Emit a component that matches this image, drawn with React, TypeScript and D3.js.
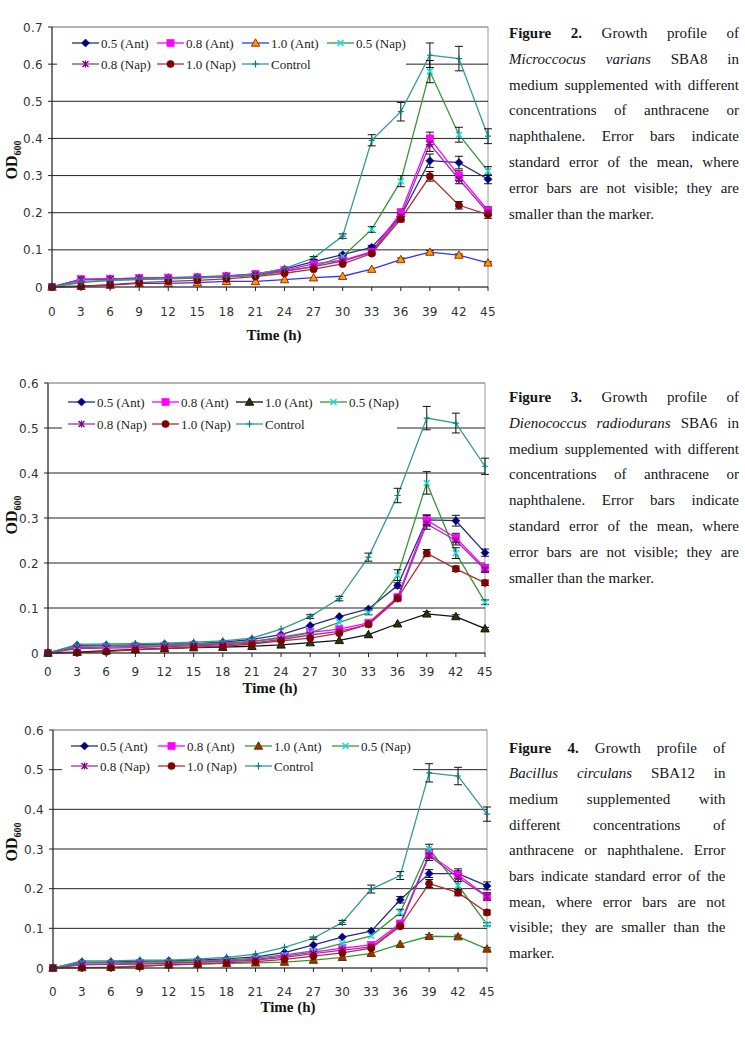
import React from 'react';
import * as d3 from 'd3';

// Sampling times (h)
const times = [0, 3, 6, 9, 12, 15, 18, 21, 24, 27, 30, 33, 36, 39, 42, 45];

const seriesLabels = ['0.5 (Ant)', '0.8 (Ant)', '1.0 (Ant)', '0.5 (Nap)', '0.8 (Nap)', '1.0 (Nap)', 'Control'];

// Figure 2 – Micrococcus varians SBA8 (OD600)
const f2Ant05 = [0, 0.020, 0.022, 0.024, 0.025, 0.027, 0.030, 0.035, 0.048, 0.068, 0.087, 0.107, 0.190, 0.340, 0.335, 0.290];
const f2Ant08 = [0, 0.021, 0.022, 0.024, 0.025, 0.026, 0.029, 0.035, 0.045, 0.062, 0.072, 0.095, 0.200, 0.400, 0.300, 0.206];
const f2Ant10 = [0, 0.002, 0.005, 0.010, 0.010, 0.012, 0.015, 0.015, 0.020, 0.025, 0.029, 0.048, 0.074, 0.094, 0.086, 0.065];
const f2Nap05 = [0, 0.012, 0.018, 0.020, 0.022, 0.024, 0.027, 0.031, 0.042, 0.055, 0.082, 0.155, 0.285, 0.580, 0.410, 0.312];
const f2Nap08 = [0, 0.020, 0.021, 0.023, 0.023, 0.025, 0.028, 0.033, 0.043, 0.055, 0.070, 0.093, 0.190, 0.385, 0.290, 0.200];
const f2Nap10 = [0, 0.002, 0.006, 0.012, 0.015, 0.018, 0.022, 0.028, 0.037, 0.048, 0.062, 0.090, 0.183, 0.298, 0.220, 0.195];
const f2Ctrl = [0, 0.015, 0.018, 0.021, 0.023, 0.025, 0.028, 0.034, 0.050, 0.078, 0.137, 0.395, 0.472, 0.624, 0.615, 0.406];

// Figure 2 – standard errors
const f2Ant05Err = [0, 0, 0, 0, 0, 0, 0, 0, 0, 0, 0.004, 0.005, 0.010, 0.018, 0.017, 0.012];
const f2Ant08Err = [0, 0, 0, 0, 0, 0, 0, 0, 0, 0, 0, 0, 0.010, 0.017, 0.013, 0.010];
const f2Ant10Err = [0, 0, 0, 0, 0, 0, 0, 0, 0, 0, 0, 0, 0.004, 0.004, 0.003, 0.003];
const f2Nap05Err = [0, 0, 0, 0, 0, 0, 0, 0, 0, 0.003, 0.004, 0.008, 0.015, 0.030, 0.020, 0.012];
const f2Nap08Err = [0, 0, 0, 0, 0, 0, 0, 0, 0, 0, 0, 0, 0.008, 0.020, 0.012, 0.008];
const f2Nap10Err = [0, 0, 0, 0, 0, 0, 0, 0, 0, 0, 0, 0, 0.008, 0.013, 0.010, 0.010];
const f2CtrlErr = [0, 0, 0, 0, 0, 0, 0, 0, 0, 0.004, 0.006, 0.015, 0.025, 0.033, 0.033, 0.020];

// Figure 3 – Dienococcus radiodurans SBA6 (OD600)
const f3Ant05 = [0, 0.017, 0.017, 0.018, 0.020, 0.021, 0.024, 0.030, 0.041, 0.061, 0.081, 0.098, 0.150, 0.296, 0.294, 0.223];
const f3Ant08 = [0, 0.012, 0.013, 0.015, 0.016, 0.018, 0.020, 0.025, 0.035, 0.046, 0.053, 0.067, 0.124, 0.295, 0.256, 0.189];
const f3Ant10 = [0, 0.002, 0.005, 0.008, 0.010, 0.012, 0.013, 0.015, 0.018, 0.023, 0.028, 0.041, 0.065, 0.087, 0.081, 0.054];
const f3Nap05 = [0, 0.015, 0.016, 0.017, 0.018, 0.020, 0.022, 0.026, 0.033, 0.045, 0.068, 0.090, 0.173, 0.378, 0.222, 0.113];
const f3Nap08 = [0, 0.010, 0.011, 0.012, 0.014, 0.016, 0.018, 0.022, 0.030, 0.040, 0.048, 0.063, 0.120, 0.287, 0.250, 0.185];
const f3Nap10 = [0, 0.001, 0.003, 0.007, 0.010, 0.013, 0.015, 0.020, 0.027, 0.033, 0.044, 0.064, 0.122, 0.222, 0.187, 0.156];
const f3Ctrl = [0, 0.019, 0.020, 0.021, 0.022, 0.024, 0.027, 0.033, 0.053, 0.081, 0.121, 0.213, 0.350, 0.522, 0.511, 0.415];

const f3Ant05Err = [0, 0, 0, 0, 0, 0, 0, 0, 0, 0, 0, 0, 0.006, 0.010, 0.012, 0.008];
const f3Ant08Err = [0, 0, 0, 0, 0, 0, 0, 0, 0, 0, 0, 0, 0.005, 0.012, 0.010, 0.008];
const f3Ant10Err = [0, 0, 0, 0, 0, 0, 0, 0, 0, 0, 0, 0, 0, 0.005, 0.004, 0.003];
const f3Nap05Err = [0, 0, 0, 0, 0, 0, 0, 0, 0, 0, 0, 0.005, 0.012, 0.025, 0.012, 0.005];
const f3Nap08Err = [0, 0, 0, 0, 0, 0, 0, 0, 0, 0, 0, 0, 0, 0.012, 0.010, 0.006];
const f3Nap10Err = [0, 0, 0, 0, 0, 0, 0, 0, 0, 0, 0, 0, 0.005, 0.008, 0.006, 0.006];
const f3CtrlErr = [0, 0, 0, 0, 0, 0, 0, 0, 0, 0.004, 0.005, 0.009, 0.016, 0.026, 0.022, 0.018];

// Figure 4 – Bacillus circulans SBA12 (OD600)
const f4Ant05 = [0, 0.015, 0.015, 0.017, 0.018, 0.020, 0.023, 0.028, 0.039, 0.058, 0.078, 0.093, 0.172, 0.238, 0.238, 0.207];
const f4Ant08 = [0, 0.010, 0.010, 0.012, 0.013, 0.015, 0.018, 0.022, 0.030, 0.040, 0.050, 0.058, 0.112, 0.287, 0.235, 0.180];
const f4Ant10 = [0, 0.001, 0.002, 0.005, 0.008, 0.010, 0.012, 0.013, 0.015, 0.020, 0.027, 0.037, 0.060, 0.080, 0.079, 0.048];
const f4Nap05 = [0, 0.013, 0.013, 0.015, 0.016, 0.018, 0.020, 0.025, 0.033, 0.043, 0.062, 0.081, 0.140, 0.300, 0.208, 0.110];
const f4Nap08 = [0, 0.008, 0.009, 0.010, 0.012, 0.014, 0.016, 0.020, 0.027, 0.036, 0.045, 0.053, 0.108, 0.283, 0.228, 0.180];
const f4Nap10 = [0, 0.001, 0.001, 0.004, 0.008, 0.010, 0.013, 0.016, 0.022, 0.030, 0.038, 0.050, 0.105, 0.213, 0.190, 0.140];
const f4Ctrl = [0, 0.018, 0.018, 0.020, 0.020, 0.023, 0.027, 0.035, 0.052, 0.075, 0.115, 0.199, 0.233, 0.492, 0.484, 0.388];

const f4Ant05Err = [0, 0, 0, 0, 0, 0, 0, 0, 0, 0, 0, 0, 0.008, 0.010, 0.012, 0.010];
const f4Ant08Err = [0, 0, 0, 0, 0, 0, 0, 0, 0, 0, 0, 0, 0.005, 0.010, 0.010, 0.010];
const f4Ant10Err = [0, 0, 0, 0, 0, 0, 0, 0, 0, 0, 0, 0, 0, 0.004, 0.004, 0.003];
const f4Nap05Err = [0, 0, 0, 0, 0, 0, 0, 0, 0, 0, 0, 0, 0.008, 0.012, 0.010, 0.004];
const f4Nap08Err = [0, 0, 0, 0, 0, 0, 0, 0, 0, 0, 0, 0, 0, 0.012, 0.010, 0.008];
const f4Nap10Err = [0, 0, 0, 0, 0, 0, 0, 0, 0, 0, 0, 0, 0.004, 0.010, 0.008, 0.006];
const f4CtrlErr = [0, 0, 0, 0, 0, 0, 0, 0, 0, 0.003, 0.005, 0.010, 0.010, 0.023, 0.022, 0.018];

const yTicks07 = [0, 0.1, 0.2, 0.3, 0.4, 0.5, 0.6, 0.7];
const yTicks06 = [0, 0.1, 0.2, 0.3, 0.4, 0.5, 0.6];

type MarkerKind = 'diamond' | 'square' | 'triangle' | 'xmark' | 'star' | 'circle' | 'plus';
type SeriesStyle = { line: string; kind: MarkerKind; fill: string; stroke: string };

const baseStyles: SeriesStyle[] = [
  { line: '#2b2b8f', kind: 'diamond', fill: '#000080', stroke: '#000080' },
  { line: '#ff00ff', kind: 'square', fill: '#ff00ff', stroke: '#ff00ff' },
  { line: '#3333ff', kind: 'triangle', fill: '#ff9900', stroke: '#993300' },
  { line: '#339933', kind: 'xmark', fill: 'none', stroke: '#00e0e0' },
  { line: '#9933aa', kind: 'star', fill: 'none', stroke: '#800080' },
  { line: '#b03030', kind: 'circle', fill: '#800000', stroke: '#800000' },
  { line: '#339999', kind: 'plus', fill: 'none', stroke: '#008080' },
];

function withAnt10(line: string, fill: string, stroke: string): SeriesStyle[] {
  return baseStyles.map((s, i) => (i === 2 ? { ...s, line, fill, stroke } : s));
}

function Marker({ kind, x, y, fill, stroke }: { kind: MarkerKind; x: number; y: number; fill: string; stroke: string }) {
  const t = `translate(${x},${y})`;
  switch (kind) {
    case 'diamond':
      return <path transform={t} d="M0,-4L4,0L0,4L-4,0Z" fill={fill} stroke={stroke} strokeWidth={0.6} />;
    case 'square':
      return <rect transform={t} x={-3.6} y={-3.6} width={7.2} height={7.2} fill={fill} stroke={stroke} strokeWidth={0.6} />;
    case 'triangle':
      return <path transform={t} d="M0,-4.2L4.2,3.2L-4.2,3.2Z" fill={fill} stroke={stroke} strokeWidth={1} />;
    case 'xmark':
      return <path transform={t} d="M-3,-3L3,3M-3,3L3,-3" stroke={stroke} strokeWidth={1.4} fill="none" />;
    case 'star':
      return <path transform={t} d="M-3,-3L3,3M-3,3L3,-3M0,-3.6L0,3.6" stroke={stroke} strokeWidth={1.3} fill="none" />;
    case 'circle':
      return <circle cx={x} cy={y} r={3.6} fill={fill} stroke={stroke} strokeWidth={0.6} />;
    case 'plus':
      return <path transform={t} d="M0,-3.6L0,3.6M-3,0L3,0" stroke={stroke} strokeWidth={1.2} fill="none" />;
  }
}

type ChartProps = {
  left: number; right: number; top: number; bottom: number; yMax: number; ticks: number[];
  values: number[][]; errors: number[][]; styles: SeriesStyle[];
  legendX: number; legendDx: number; legendRows: [number, number];
  legendBox: [number, number, number, number];
  tickLabelY: number; titleX: number; titleY: number; odX: number; odY: number;
};

function GrowthChart(p: ChartProps) {
  const x = d3.scaleLinear().domain([0, 45]).range([p.left, p.right]);
  const y = d3.scaleLinear().domain([0, p.yMax]).range([p.bottom, p.top]);
  const line = d3.line<number>().x((_, i) => x(times[i])).y((v) => y(v));
  const tickFont = { fontFamily: '"DejaVu Sans", Verdana, sans-serif', fontSize: 12, fill: '#333', letterSpacing: 0.3 };
  const legendItems = seriesLabels.map((label, i) => {
    const row = i < 4 ? 0 : 1;
    const col = i < 4 ? i : i - 4;
    return { label, i, lx: p.legendX + col * p.legendDx, ly: p.legendRows[row] };
  });
  const [bx0, by0, bx1, by1] = p.legendBox;
  return (
    <g>
      <rect x={p.left} y={p.top} width={p.right - p.left} height={p.bottom - p.top} fill="#fff" stroke="#9a9a9a" strokeWidth={1} />
      {p.ticks.filter((t) => t > 0 && t < p.yMax + 1e-9).map((t) => (
        <line key={t} x1={p.left} x2={p.right} y1={y(t)} y2={y(t)} stroke={t === p.yMax ? '#9a9a9a' : '#222'} strokeWidth={1} />
      ))}
      {p.values.map((vals, si) => (
        <path key={si} d={line(vals) || ''} fill="none" stroke={p.styles[si].line} strokeWidth={1.3} />
      ))}
      {p.values.map((vals, si) => (
        <g key={si}>
          {vals.map((v, i) => {
            const e = p.errors[si][i];
            if (!e) return null;
            const cx = x(times[i]);
            return (
              <g key={i} stroke="#111" strokeWidth={1}>
                <line x1={cx} x2={cx} y1={y(v - e)} y2={y(v + e)} />
                <line x1={cx - 4} x2={cx + 4} y1={y(v - e)} y2={y(v - e)} />
                <line x1={cx - 4} x2={cx + 4} y1={y(v + e)} y2={y(v + e)} />
              </g>
            );
          })}
        </g>
      ))}
      {p.values.map((vals, si) => (
        <g key={si}>
          {vals.map((v, i) => (
            <Marker key={i} kind={p.styles[si].kind} x={x(times[i])} y={y(v)} fill={p.styles[si].fill} stroke={p.styles[si].stroke} />
          ))}
        </g>
      ))}
      {/* legend */}
      <rect x={bx0} y={by0} width={bx1 - bx0} height={by1 - by0} fill="#fff" />
      {legendItems.map(({ label, i, lx, ly }) => (
        <g key={label}>
          <line x1={lx} x2={lx + 27} y1={ly} y2={ly} stroke={p.styles[i].line} strokeWidth={1.3} />
          <Marker kind={p.styles[i].kind} x={lx + 13.5} y={ly} fill={p.styles[i].fill} stroke={p.styles[i].stroke} />
          <text x={lx + 29} y={ly + 4.5} fontFamily='"Liberation Serif", "Times New Roman", serif' fontSize={13} fill="#222">
            {label}
          </text>
        </g>
      ))}
      {/* axes */}
      <line x1={p.left} x2={p.left} y1={p.top} y2={p.bottom} stroke="#222" strokeWidth={1} />
      <line x1={p.left} x2={p.right} y1={p.bottom} y2={p.bottom} stroke="#222" strokeWidth={1} />
      {p.ticks.map((t) => (
        <g key={t}>
          <line x1={p.left - 4} x2={p.left} y1={y(t)} y2={y(t)} stroke="#222" />
          <text x={p.left - 9} y={y(t) + 4.5} textAnchor="end" {...tickFont}>
            {t === 0 ? '0' : d3.format('.1f')(t)}
          </text>
        </g>
      ))}
      {times.map((t) => (
        <g key={t}>
          <line x1={x(t)} x2={x(t)} y1={p.bottom} y2={p.bottom + 4} stroke="#222" />
          <text x={x(t)} y={p.tickLabelY} textAnchor="middle" {...tickFont}>
            {t}
          </text>
        </g>
      ))}
      <text x={p.titleX} y={p.titleY} textAnchor="middle" fontFamily='"Liberation Serif", "Times New Roman", serif' fontWeight="bold" fontSize={15} fill="#111">
        Time (h)
      </text>
      <text transform={`translate(${p.odX},${p.odY}) rotate(-90)`} textAnchor="middle" fontFamily='"Liberation Serif", "Times New Roman", serif' fontWeight="bold" fontSize={16} fill="#111">
        OD<tspan fontSize={10} dy={4}>600</tspan>
      </text>
    </g>
  );
}

type Seg = { t: string; b?: boolean; i?: boolean };

const cap2: Seg[][] = [
  [{ t: 'Figure 2.', b: true }, { t: 'Growth profile of' }],
  [{ t: 'Microccocus varians', i: true }, { t: 'SBA8 in' }],
  [{ t: 'medium supplemented with different' }],
  [{ t: 'concentrations of anthracene or' }],
  [{ t: 'naphthalene. Error bars indicate' }],
  [{ t: 'standard error of the mean, where' }],
  [{ t: 'error bars are not visible; they are' }],
  [{ t: 'smaller than the marker.' }],
];
const cap3: Seg[][] = [
  [{ t: 'Figure 3.', b: true }, { t: 'Growth profile of' }],
  [{ t: 'Dienococcus radiodurans', i: true }, { t: 'SBA6 in' }],
  [{ t: 'medium supplemented with different' }],
  [{ t: 'concentrations of anthracene or' }],
  [{ t: 'naphthalene. Error bars indicate' }],
  [{ t: 'standard error of the mean, where' }],
  [{ t: 'error bars are not visible; they are' }],
  [{ t: 'smaller than the marker.' }],
];
const cap4: Seg[][] = [
  [{ t: 'Figure 4.', b: true }, { t: 'Growth profile of' }],
  [{ t: 'Bacillus circulans', i: true }, { t: 'SBA12 in' }],
  [{ t: 'medium supplemented with' }],
  [{ t: 'different concentrations of' }],
  [{ t: 'anthracene or naphthalene. Error' }],
  [{ t: 'bars indicate standard error of the' }],
  [{ t: 'mean, where error bars are not' }],
  [{ t: 'visible; they are smaller than the' }],
  [{ t: 'marker.' }],
];

const CAP_FONT = 15;
const capFamily = '"Liberation Serif", "Times New Roman", serif';
let measureCtx: CanvasRenderingContext2D | null = null;
function measure(word: string, b?: boolean, i?: boolean) {
  if (!measureCtx) measureCtx = document.createElement('canvas').getContext('2d');
  if (!measureCtx) return word.length * CAP_FONT * 0.5;
  measureCtx.font = `${i ? 'italic ' : ''}${b ? 'bold ' : ''}${CAP_FONT}px ${capFamily}`;
  return measureCtx.measureText(word).width;
}

function Caption({ lines, x0, x1, y0, lh }: { lines: Seg[][]; x0: number; x1: number; y0: number; lh: number }) {
  return (
    <g fontFamily={capFamily} fontSize={CAP_FONT} fill="#151515">
      {lines.map((segs, li) => {
        const words = segs.flatMap((s) => s.t.split(' ').map((w) => ({ w, b: s.b, i: s.i })));
        const widths = words.map((w) => measure(w.w, w.b, w.i));
        const total = widths.reduce((a, b) => a + b, 0);
        const last = li === lines.length - 1;
        const gap = last || words.length < 2 ? measure(' ') : (x1 - x0 - total) / (words.length - 1);
        let cx = x0;
        return words.map((w, wi) => {
          const el = (
            <text key={`${li}-${wi}`} x={cx} y={y0 + li * lh} fontWeight={w.b ? 'bold' : 'normal'} fontStyle={w.i ? 'italic' : 'normal'}>
              {w.w}
            </text>
          );
          cx += widths[wi] + gap;
          return el;
        });
      })}
    </g>
  );
}

export default function App() {
  return (
    <svg width={745} height={1037} style={{ position: 'absolute', left: 0, top: 0, background: '#fff' }}>
      <rect width={745} height={1037} fill="#fff" />
      <GrowthChart
        left={52} right={488} top={27} bottom={287} yMax={0.7} ticks={yTicks07}
        values={[f2Ant05, f2Ant08, f2Ant10, f2Nap05, f2Nap08, f2Nap10, f2Ctrl]}
        errors={[f2Ant05Err, f2Ant08Err, f2Ant10Err, f2Nap05Err, f2Nap08Err, f2Nap10Err, f2CtrlErr]}
        styles={baseStyles}
        legendX={72} legendDx={85} legendRows={[43, 64]} legendBox={[57, 30, 406, 76]}
        tickLabelY={316} titleX={274} titleY={340} odX={17} odY={160}
      />
      <GrowthChart
        left={48} right={485} top={383} bottom={653} yMax={0.6} ticks={yTicks06}
        values={[f3Ant05, f3Ant08, f3Ant10, f3Nap05, f3Nap08, f3Nap10, f3Ctrl]}
        errors={[f3Ant05Err, f3Ant08Err, f3Ant10Err, f3Nap05Err, f3Nap08Err, f3Nap10Err, f3CtrlErr]}
        styles={withAnt10('#111111', '#333300', '#111111')}
        legendX={68} legendDx={84} legendRows={[402, 424]} legendBox={[62, 388, 397, 437]}
        tickLabelY={676} titleX={270} titleY={693} odX={17} odY={515}
      />
      <GrowthChart
        left={53} right={487} top={730} bottom={968} yMax={0.6} ticks={yTicks06}
        values={[f4Ant05, f4Ant08, f4Ant10, f4Nap05, f4Nap08, f4Nap10, f4Ctrl]}
        errors={[f4Ant05Err, f4Ant08Err, f4Ant10Err, f4Nap05Err, f4Nap08Err, f4Nap10Err, f4CtrlErr]}
        styles={withAnt10('#339933', '#993300', '#663300')}
        legendX={71} legendDx={87} legendRows={[746, 766]} legendBox={[62, 734, 413, 779]}
        tickLabelY={996} titleX={288} titleY={1012} odX={17} odY={842}
      />
      <Caption lines={cap2} x0={509} x1={739} y0={38} lh={25.8} />
      <Caption lines={cap3} x0={509} x1={739} y0={402} lh={25.8} />
      <Caption lines={cap4} x0={509} x1={725.5} y0={752.5} lh={25.7} />
    </svg>
  );
}
